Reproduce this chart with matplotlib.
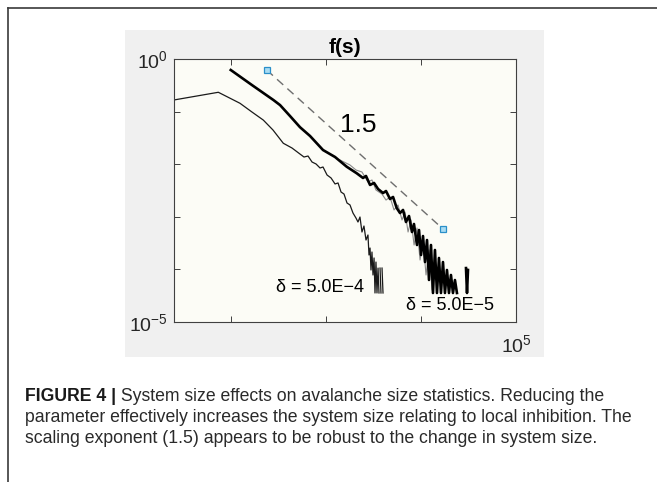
import numpy as np
import matplotlib.pyplot as plt
from matplotlib import font_manager
from matplotlib.lines import Line2D
from matplotlib.patches import Rectangle
from matplotlib.ticker import NullLocator

# avalanche size distribution f(s), delta = 5.0E-4 (thin black)
s_small = [25.1, 74, 125, 167, 220, 278, 357, 441, 535, 589, 650, 716, 789, 869, 934,
           1030, 1135, 1250, 1344, 1445, 1553, 1670, 1795, 1930, 2075, 2178, 2286, 2399,
           2518, 2645, 2774, 2844, 2917, 2985, 3057, 3133, 3214, 3289, 3367, 3451, 3540,
           3622, np.nan, 3715, 3802, np.nan, 3899, 3993]
f_small = [0.166, 0.233, 0.144, 0.0983, 0.069, 0.0447, 0.025, 0.0203, 0.0156, 0.0137,
           0.0143, 0.0110, 0.0101, 0.00847, 0.00885, 0.00623, 0.00547, 0.00421, 0.0044,
           0.00296, 0.00271, 0.00183, 0.00168, 0.00118, 9.48e-4, 7.96e-4, 9.91e-4, 5.14e-4,
           6.68e-4, 3.62e-4, 4.51e-4, 1.88e-4, 2.55e-4, 9.75e-5, 2.14e-4, 7.83e-5, 1.65e-4,
           3.56e-5, 1.38e-4, 3.56e-5, 1.06e-4, 3.56e-5, np.nan, 1.06e-4, 3.56e-5, np.nan,
           1.06e-4, 3.56e-5]

# delta = 5.0E-5 (thick black)
s_large = [100, 167, 281, 330, 420, 535, 682, 934, 1250, 1657, 2113, 2460, 2645, 2917,
           3214, 3540, 3993, 4295, 4732, 5093, 5563, 6025, 6486, 6966, 7497, 8054, 8453,
           9095, 9550, 10030, 10520, 11040, 11590, 12160, 12760, 13390, 14050, 14750,
           15480, 16250, 17060, 17900, 18790, 19720, 20700, 21730, 22800, 23930, np.nan,
           29790, 30530, 31260]
f_large = [0.618, 0.32, 0.166, 0.133, 0.0824, 0.0505, 0.0344, 0.0186, 0.0137, 0.00896,
           0.00672, 0.00547, 0.00597, 0.00403, 0.0044, 0.00338, 0.00283, 0.00309, 0.00218,
           0.00238, 0.00147, 0.00118, 0.00135, 7.96e-4, 1.035e-3, 5.14e-4, 7.3e-4, 2.91e-4,
           5.61e-4, 1.88e-4, 4.31e-4, 1.38e-4, 3.62e-4, 6.3e-5, 2.91e-4, 3.56e-5, 2.34e-4,
           3.56e-5, 1.65e-4, 3.56e-5, 1.38e-4, 3.56e-5, 9.75e-5, 3.56e-5, 7.83e-5, 3.56e-5,
           6.28e-5, 3.56e-5, np.nan, 1.06e-4, 3.56e-5, 9.75e-5]

# second delta = 5.0E-5 trace (thin grey)
s_grey = [1409, 1795, 2075, 2399, 2774, 3057, 3367, 3893, 4295, 4732, 5212, 5742, 6326,
          6808, 7325, 7871, 8472, 9095, 9794, 10520, 11320, 12160, 13090, 14420]
f_grey = [0.0120, 0.00966, 0.00776, 0.00711, 0.00459, 0.00501, 0.00323, 0.00271, 0.00208,
          0.00238, 0.00135, 0.00168, 8.7e-4, 1.23e-3, 5.14e-4, 8.7e-4, 2.91e-4, 6.12e-4,
          1.51e-4, 3.62e-4, 7.83e-5, 2.34e-4, 4.06e-5, 1.21e-4]

# reference power law
s_guide = [239, 17220]
f_guide = [0.618, 5.78e-4]
slope_label = '1.5'

label_small = 'δ = 5.0E−4'
label_large = 'δ = 5.0E−5'

caption_head = 'FIGURE 4 |'
caption_lines = ['System size effects on avalanche size statistics. Reducing the',
                 'parameter effectively increases the system size relating to local inhibition. The',
                 'scaling exponent (1.5) appears to be robust to the change in system size.']


def has_font(name):
    try:
        font_manager.findfont(name, fallback_to_default=False)
        return True
    except ValueError:
        return False


plt.rcParams['font.family'] = ['Liberation Sans', 'DejaVu Sans']
plt.rcParams['mathtext.fontset'] = 'custom'
plt.rcParams['mathtext.rm'] = 'Liberation Sans'
plt.rcParams['mathtext.it'] = 'Liberation Sans:italic'
plt.rcParams['mathtext.bf'] = 'Liberation Sans:bold'

W, H = 657, 482
fig = plt.figure(figsize=(W / 100, H / 100), dpi=100)

# grey matlab figure panel
fig.add_artist(Rectangle((125 / W, 1 - 357 / H), 419 / W, 327 / H, transform=fig.transFigure,
                         facecolor='#f0f0f0', edgecolor='none', zorder=-2))

# page frame (top and left)
fig.add_artist(Line2D([8 / W, 8 / W], [0, 1 - 8 / H], transform=fig.transFigure,
                      color='#3a3a3a', lw=1.2))
fig.add_artist(Line2D([8 / W, 1], [1 - 8 / H, 1 - 8 / H], transform=fig.transFigure,
                      color='#3a3a3a', lw=1.2))

ax = fig.add_axes([173.7 / W, 1 - 322 / H, 342.3 / W, 263 / H])
ax.set_facecolor('#fcfcf6')
ax.set_xscale('log')
ax.set_yscale('log')
ax.set_xlim(10 ** 1.4, 1e5)
ax.set_ylim(1e-5, 1)

ax.plot(s_small, f_small, color='#1a1a1a', lw=0.9)
ax.plot(s_grey, f_grey, color='#8a8a8a', lw=0.8)
ax.plot(s_large, f_large, color='black', lw=1.9)
ax.plot(s_guide, f_guide, color='#6e6e6e', lw=1.0, ls=(0, (6, 4)),
        marker='s', ms=4.5, mfc='#a9dcf3', mec='#2a8fc9', mew=0.9)

ax.text(2178, 0.0556, slope_label, fontsize=19, ha='center', va='center')
ax.text(869, 4.6e-5, label_small, fontsize=13, ha='center', va='center')
ax.text(20230, 2.1e-5, label_large, fontsize=13, ha='center', va='center', clip_on=False)

ax.set_title('f(s)', fontsize=15, fontweight='bold', pad=4)

ax.set_xticks([1e2, 1e3, 1e4, 1e5])
ax.set_xticklabels(['', '', '', r'$\mathregular{10^{5}}$'])
ax.set_yticks([1e-5, 1e-4, 1e-3, 1e-2, 1e-1, 1])
ax.set_yticklabels([r'$\mathregular{10^{-5}}$', '', '', '', '', r'$\mathregular{10^{0}}$'])
ax.xaxis.set_minor_locator(NullLocator())
ax.yaxis.set_minor_locator(NullLocator())
ax.tick_params(which='both', direction='in', top=True, right=True, length=4, width=0.7,
               color='#404040', labelsize=14, labelcolor='#262626')
ax.tick_params(axis='x', pad=9)
ax.tick_params(axis='y', pad=4)
for sp in ax.spines.values():
    sp.set_color('#404040')
    sp.set_linewidth(0.8)

# caption, narrow sans fitted to the column width
cap_font = 'Liberation Sans Narrow' if has_font('Liberation Sans Narrow') else 'Liberation Sans'
renderer = fig.canvas.get_renderer()
probe = fig.text(0, 0, caption_lines[1], fontsize=10, family=cap_font)
scale = 611 / probe.get_window_extent(renderer).width
probe.remove()
cap_size = 10 * scale

x0 = 25 / W
baselines = [401, 422, 443]
head = fig.text(x0, 1 - baselines[0] / H, caption_head, fontsize=cap_size, family=cap_font,
                fontweight='bold', va='baseline', color='#1a1a1a')
hx = head.get_window_extent(renderer).x1 / W
fig.text(hx, 1 - baselines[0] / H, ' ' + caption_lines[0], fontsize=cap_size, family=cap_font,
         va='baseline', color='#2a2a2a')
for yb, line in zip(baselines[1:], caption_lines[1:]):
    fig.text(x0, 1 - yb / H, line, fontsize=cap_size, family=cap_font, va='baseline',
             color='#2a2a2a')

fig.savefig('out.png', dpi=100)
